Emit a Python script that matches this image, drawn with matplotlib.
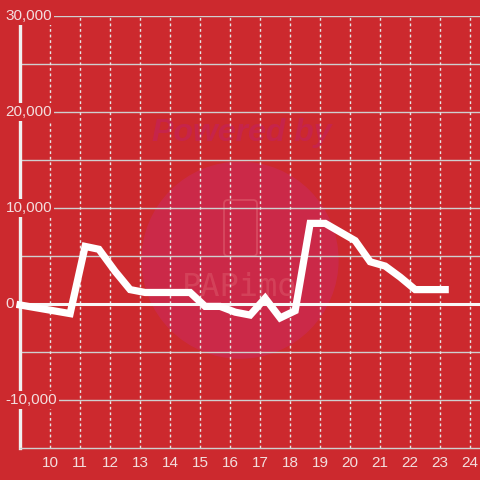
import matplotlib
matplotlib.use('Agg')
import matplotlib.pyplot as plt
import matplotlib.transforms as mtransforms
from matplotlib.patches import Circle, FancyBboxPatch

# hours of the day and the values
hours = [9.0, 10.67, 11.17, 11.63, 12.17, 12.67, 13.17, 13.67, 14.17, 14.67,
         15.17, 15.67, 16.17, 16.67, 17.17, 17.67, 18.17, 18.67, 19.17,
         19.67, 20.17, 20.67, 21.17, 21.67, 22.17, 23.17]
values = [-100, -1000, 6000, 5700, 3400, 1500, 1200, 1200, 1200, 1200,
          -250, -250, -850, -1150, 600, -1450, -700, 8400, 8400,
          7500, 6600, 4400, 3950, 2800, 1500, 1500]

x_ticks = list(range(10, 25))
y_ticks = [-10000, 0, 10000, 20000, 30000]
y_grid = list(range(-10000, 30001, 5000))

bg = '#cc292e'
fg = '#f3dede'

plt.rcParams['font.family'] = ['Liberation Sans', 'DejaVu Sans']

fig = plt.figure(figsize=(4.8, 4.8), dpi=100)
fig.patch.set_facecolor(bg)
ax = fig.add_axes([20 / 480, 32 / 480, 460 / 480, 432 / 480])
ax.set_facecolor(bg)
ax.set_xlim(9.0, 24.33)
ax.set_ylim(-15000, 30000)

# watermark, behind the grid
ft = fig.transFigure
ax.add_patch(Circle((0.5, 0.458), 0.204, transform=ft, color='#cb2948',
                    zorder=0.5, clip_on=False))
ax.text(0.503, 0.723, 'Powered by', transform=ft, ha='center', va='center',
        fontsize=23, fontweight='bold', fontstyle='italic', color='#c6244a',
        zorder=0.6, clip_on=False)
ax.add_patch(FancyBboxPatch((224 / 480, 224 / 480), 33 / 480, 56 / 480,
                            boxstyle='round,pad=0,rounding_size=0.008',
                            transform=ft, fill=False, edgecolor='#d74a60',
                            lw=1.3, zorder=0.6, clip_on=False))
ax.text(0.5, 0.4, 'PAPimo', transform=ft, ha='center', va='center',
        fontsize=23, family='DejaVu Sans Mono', color='#d74a60', alpha=0.75,
        zorder=0.6, clip_on=False)

# grid
for yv in y_grid:
    if yv == 0:
        continue
    ax.axhline(yv, color='#cfcfcf', lw=1, zorder=1)
for xv in x_ticks:
    ax.axvline(xv, color='#e6e6e6', lw=1, ls=(0, (2, 2)), zorder=1)
ax.axhline(0, color='#f8f8f8', lw=2.2, zorder=2)

ax.plot(hours, values, color='white', lw=5.2, solid_joinstyle='miter',
        solid_capstyle='projecting', zorder=3, clip_on=False)

for s in ['top', 'right']:
    ax.spines[s].set_visible(False)
ax.spines['left'].set_color('#f0f0f0')
ax.spines['left'].set_linewidth(2.4)
ax.spines['bottom'].set_color('#cfcfcf')
ax.spines['bottom'].set_linewidth(1)

ax.set_xticks(x_ticks)
ax.set_xticklabels([str(v) for v in x_ticks], color=fg, fontsize=11)
ax.tick_params(axis='x', length=0, pad=6)
ax.set_yticks([])

trans = mtransforms.blended_transform_factory(fig.transFigure, ax.transData)
for yv in y_ticks:
    ax.text(5.5 / 480, yv, '{:,}'.format(yv), transform=trans, ha='left',
            va='center', fontsize=11, color=fg, zorder=6, clip_on=False,
            bbox=dict(boxstyle='square,pad=0.15', facecolor=bg, edgecolor='none'))

fig.savefig('out.png', dpi=100, facecolor=bg)
